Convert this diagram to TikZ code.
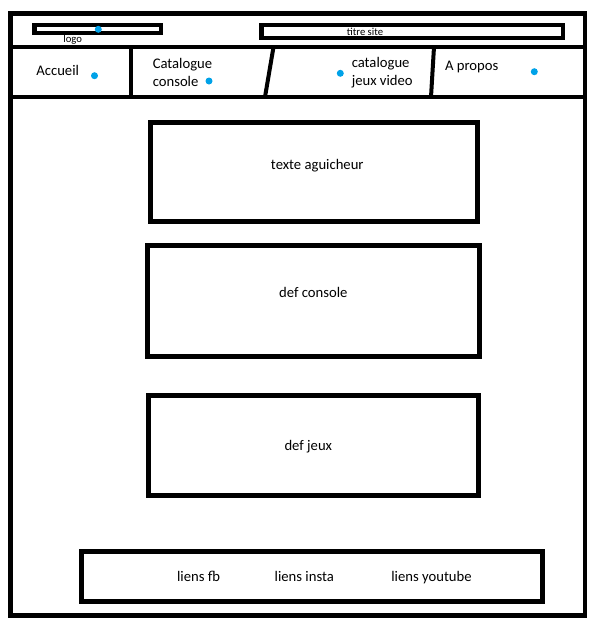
\documentclass[tikz,border=0pt]{standalone}
\usepackage{fontspec}
\setmainfont{Carlito}
\definecolor{dotblue}{HTML}{00A2E8}
\begin{document}
\begin{tikzpicture}[x=0.75pt,y=-0.75pt,
  frame/.style={line width=3.5pt, line join=miter},
  rule/.style={line width=3.5pt},
  divider/.style={line width=3pt},
  box/.style={draw, line width=3.75pt, inner sep=0pt},
  slim/.style={draw, line width=3.1pt, inner sep=0pt},
  sz/.style 2 args={minimum width=#1*0.75pt, minimum height=#2*0.75pt},
  lbl/.style={font=\fontsize{11}{13.5}\selectfont, inner sep=0pt, text=black},
  word/.style={lbl, text height=8pt, text depth=0pt},
  tiny/.style={font=\fontsize{8}{9}\selectfont, inner sep=0pt, text=black},
  dot/.style={circle, fill=dotblue, minimum size=5.25pt, inner sep=0pt}
]
\useasboundingbox (0,0) rectangle (600,626);

% page frame
\coordinate (pageTL) at (10.5,13.5);
\coordinate (pageBR) at (585,615.5);
\draw[frame] (pageTL) rectangle (pageBR);

% header and navigation rules
\coordinate (hdrL) at (10.5,47);
\coordinate (hdrR) at (585,47);
\coordinate (navL) at (10.5,97);
\coordinate (navR) at (585,97);
\draw[rule] (hdrL) -- (hdrR);
\draw[rule] (navL) -- (navR);

% menu separators
\coordinate (sepAt) at (131,47);   \coordinate (sepAb) at (131,97);
\coordinate (sepBt) at (273.5,47); \coordinate (sepBb) at (265,97);
\coordinate (sepCt) at (434,47);   \coordinate (sepCb) at (431,97);
\draw[divider] (sepAt) -- (sepAb);
\draw[divider] (sepBt) -- (sepBb);
\draw[divider] (sepCt) -- (sepCb);

% header: logo bar and site title
\node[slim, sz={126.5}{8.4}] (logo) at (97.8,29.2) {};
\node[dot] (logoDot) at (98.3,29.3) {};
\node[tiny] (logoText) at (72.7,40) {logo};
\node[slim, sz={301.8}{13.4}] (title) at (412.4,31.7) {};
\node[tiny] (titleText) at (365,32) {titre site};

% menu entries
\node[word] (home) at (57.7,70) {Accueil};
\node[dot] (homeDot) at (94.5,75.7) {};
\node[lbl, anchor=west, align=left] (consoles) at (152.5,72) {Catalogue\\console};
\node[dot] (consolesDot) at (209,81) {};
\node[dot] (gamesDot) at (340.3,73.3) {};
\node[lbl, anchor=west, align=left] (games) at (351.5,72.8) {catalogue\\jeux video};
\node[word] (about) at (471.7,64.8) {A propos};
\node[dot] (aboutDot) at (534.3,71.7) {};

% content blocks
\node[box, sz={326.2}{99}] (teaser) at (313.9,171.5) {};
\node[word] (teaserText) at (317.3,164.5) {texte aguicheur};
\node[box, sz={331.7}{111.3}] (console) at (313.4,300.9) {};
\node[word] (consoleText) at (313.3,292) {def console};
\node[box, sz={329.5}{100}] (jeux) at (313.5,445) {};
\node[word] (jeuxText) at (308.3,445.5) {def jeux};

% footer links
\node[box, sz={460.6}{50.5}] (footer) at (312,576.3) {};
\node[word] (fb) at (198.5,576) {liens fb};
\node[word] (insta) at (304.3,576) {liens insta};
\node[word] (yt) at (431.5,576) {liens youtube};
\end{tikzpicture}
\end{document}
